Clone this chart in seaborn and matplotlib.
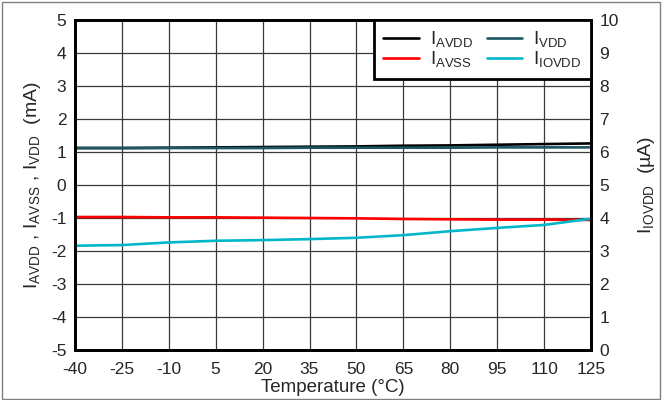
import matplotlib
matplotlib.use("Agg")
import matplotlib.pyplot as plt
import seaborn as sns
import pandas as pd
from matplotlib.patches import Rectangle

temps = [-40, -25, -10, 5, 20, 35, 50, 65, 80, 95, 110, 125]
i_avdd = [1.12, 1.12, 1.13, 1.14, 1.15, 1.16, 1.17, 1.19, 1.20, 1.22, 1.24, 1.26]
i_avss = [-0.97, -0.97, -0.98, -0.98, -0.99, -1.00, -1.01, -1.03, -1.04, -1.05, -1.05, -1.06]
i_vdd = [1.12, 1.12, 1.12, 1.12, 1.12, 1.13, 1.13, 1.13, 1.13, 1.14, 1.14, 1.14]
i_iovdd = [3.16, 3.18, 3.26, 3.31, 3.33, 3.36, 3.40, 3.48, 3.60, 3.70, 3.79, 3.98]

xticks = list(range(-40, 126, 15))
left_ticks = list(range(-5, 6))
right_ticks = list(range(0, 11))

sns.set_style("white")
plt.rcParams['font.family'] = ['Liberation Sans', 'DejaVu Sans']
plt.rcParams['mathtext.fontset'] = 'custom'
plt.rcParams['mathtext.rm'] = 'Liberation Sans'
plt.rcParams['mathtext.it'] = 'Liberation Sans:italic'
plt.rcParams['axes.unicode_minus'] = False

df = pd.DataFrame({"T": temps, "avdd": i_avdd, "avss": i_avss, "vdd": i_vdd, "iovdd": i_iovdd})

fig = plt.figure(figsize=(6.62, 4.0), dpi=100)
ax = fig.add_axes([0.113, 0.125, 0.78, 0.825])
ax2 = ax.twinx()

c_avdd = "#000000"
c_avss = "#ff0000"
c_vdd = "#1d5563"
c_iovdd = "#00b7c9"
lw = 1.9

sns.lineplot(data=df, x="T", y="avdd", ax=ax, color=c_avdd, lw=lw, label=r"$\mathregular{I_{AVDD}}$", legend=False)
sns.lineplot(data=df, x="T", y="avss", ax=ax, color=c_avss, lw=lw, label=r"$\mathregular{I_{AVSS}}$", legend=False)
sns.lineplot(data=df, x="T", y="vdd", ax=ax, color=c_vdd, lw=lw, label=r"$\mathregular{I_{VDD}}$", legend=False)
sns.lineplot(data=df, x="T", y="iovdd", ax=ax2, color=c_iovdd, lw=lw, label=r"$\mathregular{I_{IOVDD}}$", legend=False)

ax.set_xlim(-40, 125)
ax.set_ylim(-5, 5)
ax2.set_ylim(0, 10)
ax.set_xticks(xticks)
ax.set_yticks(left_ticks)
ax2.set_yticks(right_ticks)
ax.tick_params(axis="x", length=0, labelsize=12.5, pad=9)
ax.tick_params(axis="y", length=0, labelsize=12.5, pad=6)
ax2.tick_params(length=0, labelsize=12.5, pad=6)

ax.grid(True, color="#3a3a3a", lw=0.9)
ax.set_axisbelow(True)
ax2.grid(False)

for a in (ax, ax2):
    for s in a.spines.values():
        s.set_linewidth(2.0)
        s.set_color("black")

ax.set_xlabel("Temperature (°C)", fontsize=13.5, labelpad=1)
ax.set_ylabel(r"$\mathregular{I_{AVDD}}$ , $\mathregular{I_{AVSS}}$ , $\mathregular{I_{VDD}}$  (mA)", fontsize=14, labelpad=6)
ax2.set_ylabel(r"$\mathregular{I_{IOVDD}}$  (µA)", fontsize=14, labelpad=12)

h1, l1 = ax.get_legend_handles_labels()
h2, l2 = ax2.get_legend_handles_labels()
handles = [h1[0], h1[1], h1[2], h2[0]]
labels = [l1[0], l1[1], l1[2], l2[0]]
leg = ax2.legend(handles, labels, ncol=2, loc="upper right", bbox_to_anchor=(1.0, 1.0),
                 frameon=True, fancybox=False, framealpha=1, edgecolor="black",
                 fontsize=13.5, handlelength=1.9, handletextpad=0.6, columnspacing=0.7,
                 labelspacing=0.0, borderpad=0.5, borderaxespad=0)
leg.get_frame().set_linewidth(2.0)

fig.patches.append(Rectangle((0.003, 0.003), 0.994, 0.992, transform=fig.transFigure,
                             fill=False, edgecolor="#808080", lw=1.0))

fig.savefig("out.png", dpi=100)
